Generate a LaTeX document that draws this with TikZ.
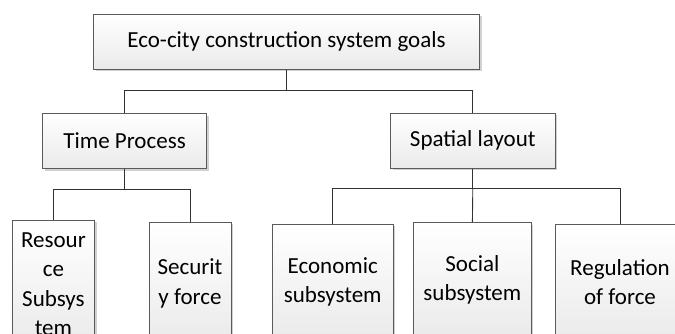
\documentclass[tikz,border=0pt]{standalone}
\usepackage{fontspec}
\setmainfont{Carlito}
\usetikzlibrary{shadows}
\definecolor{boxline}{RGB}{90,90,90}
\definecolor{boxbot}{RGB}{234,234,234}
\definecolor{linkc}{RGB}{50,50,50}
\begin{document}
\begin{tikzpicture}[x=1pt,y=-1pt,
  goalbox/.style={draw=boxline, line width=0.8pt, top color=white, bottom color=boxbot,
    drop shadow={shadow xshift=2pt, shadow yshift=-2pt, fill=black!18, opacity=1},
    inner sep=0pt, align=center, font=\fontsize{23}{29.5}\selectfont, text=black},
  link/.style={draw=linkc, line width=0.9pt}]
\useasboundingbox (0,0) rectangle (675,333);
\clip (0,0) rectangle (675,333);
% level 0
\node[goalbox, minimum width=386pt, minimum height=55pt] (top) at (286.5,41.7) {Eco-city construction system goals};
% level 1
\node[goalbox, minimum width=164pt, minimum height=55pt] (time) at (124.6,141) {Time Process};
\node[goalbox, minimum width=164.5pt, minimum height=55pt] (spat) at (472.8,140.8) {Spatial layout};
% level 2
\node[goalbox, minimum width=82.7pt, minimum height=128pt] (res) at (53.4,284) {Resour\\ce\\Subsys\\tem};
\node[goalbox, minimum width=82pt, minimum height=122pt] (sec) at (190,283.3) {Securit\\y force};
\node[goalbox, minimum width=120.5pt, minimum height=115.4pt] (eco) at (332.7,282) {Economic\\subsystem};
\node[goalbox, minimum width=117.3pt, minimum height=114.6pt] (soc) at (472.4,280) {Social\\subsystem};
\node[goalbox, minimum width=130pt, minimum height=116pt] (reg) at (620,282) {Regulation\\of force};
% junctions
\coordinate (j0) at (286.5,90);
\coordinate (j1) at (124.6,189.3);
\coordinate (j2) at (472.8,188.7);
% connectors
\draw[link] (top.south) -- (j0) -| (time.north);
\draw[link] (j0) -| (spat.north);
\draw[link] (time.south) -- (j1) -| (res.north);
\draw[link] (j1) -| (sec.north);
\draw[link] (spat.south) -- (j2) -| (eco.north);
\draw[link] (j2) -- (soc.north);
\draw[link] (j2) -| (reg.north);
\end{tikzpicture}
\end{document}
